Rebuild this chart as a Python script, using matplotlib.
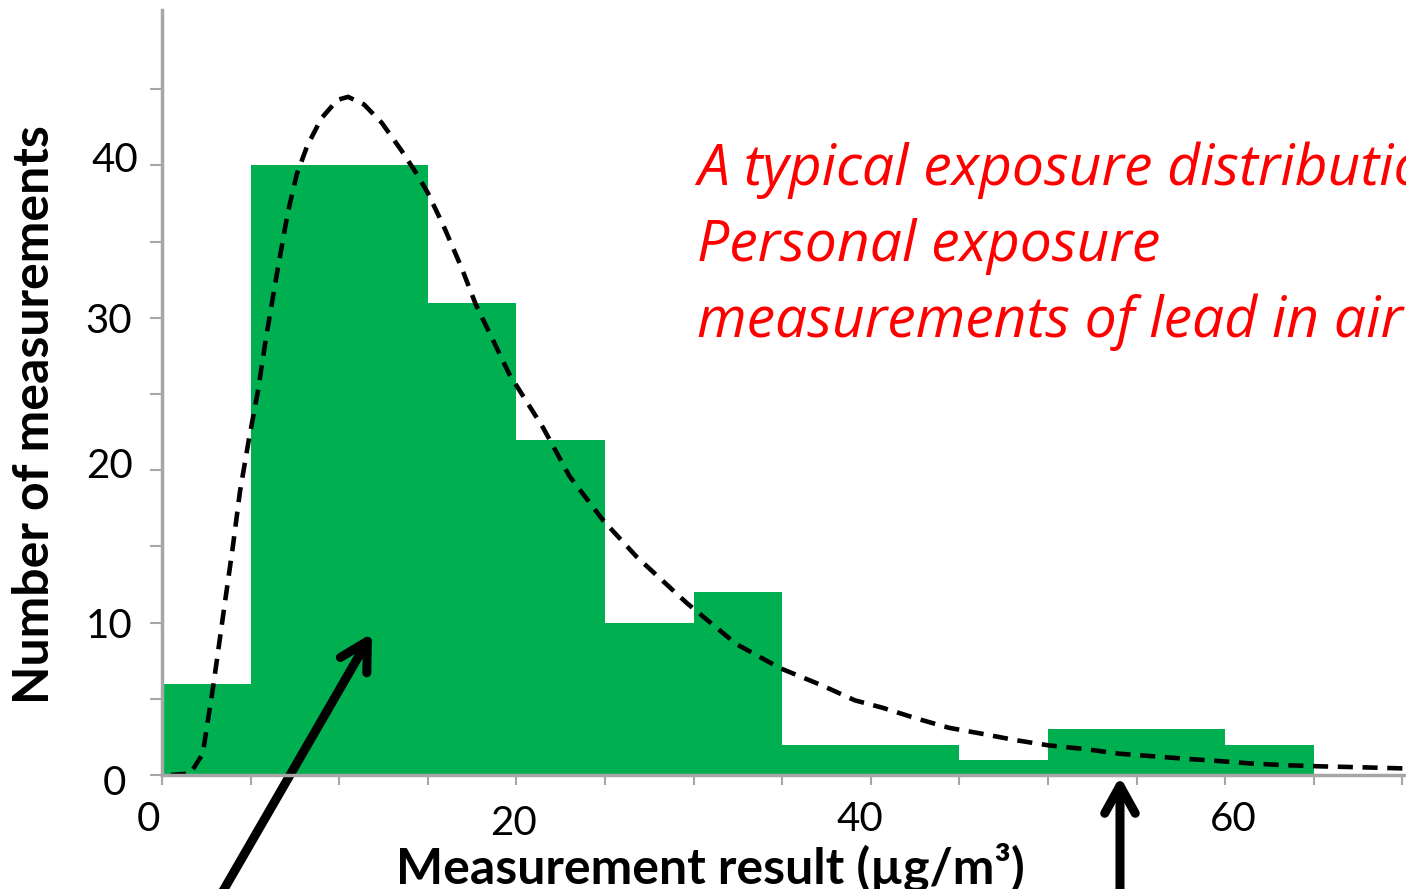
import matplotlib.pyplot as plt
from matplotlib.transforms import ScaledTranslation

# histogram of lead-in-air results (bin left edges, width 5)
bin_left = [0, 5, 10, 15, 20, 25, 30, 35, 40, 45, 50, 55, 60]
counts = [6, 40, 40, 31, 22, 10, 12, 2, 2, 1, 3, 3, 2]

# fitted distribution
curve_x = [0.5, 1.6, 2.3, 2.9, 3.5, 4.0, 4.4, 4.9, 5.4, 5.9, 6.5, 7.1, 7.6, 8.2,
           9.0, 9.9, 10.5, 11.4, 12.4, 13.5, 14.4, 15.0, 15.9, 16.9, 17.7, 19.6,
           21.5, 23.0, 24.9, 26.8, 29.6, 32.4, 34.9, 37.2, 39.1, 40.7, 42.6, 44.4,
           46.3, 48.1, 50.0, 52.1, 54.0, 55.8, 57.7, 59.5, 61.4, 63.5, 65.3, 67.2,
           69.5, 71.0]
curve_y = [0.0, 0.1, 1.4, 5.9, 10.9, 15.0, 18.6, 22.0, 25.1, 28.9, 33.0, 36.9, 39.4,
           41.3, 43.1, 44.3, 44.5, 44.0, 42.8, 41.0, 39.4, 38.2, 36.0, 33.3, 30.9,
           26.3, 22.8, 19.6, 16.7, 14.3, 11.3, 8.6, 7.0, 5.9, 4.9, 4.4, 3.7, 3.1,
           2.7, 2.3, 1.95, 1.7, 1.4, 1.24, 1.07, 0.93, 0.76, 0.64, 0.57, 0.52,
           0.45, 0.4]

xtick_vals = [0, 20, 40, 60]
ytick_vals = [0, 10, 20, 30, 40]

note_lines = ["A typical exposure distribution",
              "Personal exposure",
              "measurements of lead in air"]

plt.rcParams['font.family'] = ['Lato', 'DejaVu Sans']

fig = plt.figure(figsize=(14.06, 8.89), dpi=100)
ax = fig.add_axes([162 / 1406, 1 - 775 / 889, 1 - 162 / 1406, (775 - 10) / 889])

ax.bar(bin_left, counts, width=5, align='edge', color='#00B050', linewidth=0, zorder=2)
ax.plot(curve_x, curve_y, color='black', lw=3.3, linestyle=(0, (3.3, 2.1)), zorder=3)

ax.set_xlim(0, 70.2)
ax.set_ylim(0, 50.2)

grey = '#A6A6A6'
for s in ['top', 'right']:
    ax.spines[s].set_visible(False)
for s in ['left', 'bottom']:
    ax.spines[s].set_color(grey)
    ax.spines[s].set_linewidth(2.5)
    ax.spines[s].set_zorder(4)

ax.set_xticks(range(0, 71, 5), minor=True)
ax.set_xticks(xtick_vals)
ax.set_xticklabels([str(v) for v in xtick_vals])
ax.set_yticks(range(0, 50, 5), minor=True)
ax.set_yticks(ytick_vals)
ax.set_yticklabels([str(v) for v in ytick_vals])
ax.tick_params(which='both', color=grey, width=1.5)
ax.tick_params(axis='y', which='both', length=9)
ax.tick_params(axis='x', which='both', length=7)
ax.tick_params(axis='x', labelsize=29, pad=12)
ax.tick_params(axis='y', labelsize=29, pad=8)

# the reference labels sit a little off their ticks
x_shift = [(-14, 0), (-3, -4), (-11, 0), (8, 0)]
for lab, (dx, dy) in zip(ax.get_xticklabels(), x_shift):
    lab.set_transform(lab.get_transform() + ScaledTranslation(dx / 100, dy / 100, fig.dpi_scale_trans))
y_shift = [(-12, -5), (-6, 0), (-6, 7), (-6, 0), (0, 8)]
for lab, (dx, dy) in zip(ax.get_yticklabels(), y_shift):
    lab.set_transform(lab.get_transform() + ScaledTranslation(dx / 100, dy / 100, fig.dpi_scale_trans))

fig.text(710 / 1406, 5 / 889, "Measurement result (µg/m³)", fontsize=36,
         fontweight='bold', ha='center', va='baseline')
fig.text(35 / 1406, 1 - 415 / 889, "Number of measurements", fontsize=36,
         fontweight='bold', rotation=90, ha='center', va='center')

for i, line in enumerate(note_lines):
    fig.text(697 / 1406, 1 - (185 + 76 * i) / 889, line, fontsize=41,
             style='italic', color='#FF0000', ha='left', va='baseline',
             family=['Open Sans', 'DejaVu Sans'])

arrow = dict(arrowstyle='->,head_length=0.9,head_width=0.5', lw=6.5,
             color='black', shrinkA=0, shrinkB=0, mutation_scale=22,
             capstyle='round', joinstyle='round')
ax.annotate('', xy=(11.85, 9.3), xytext=(3.0, -8.5), arrowprops=arrow,
            annotation_clip=False)
ax.annotate('', xy=(54.06, -0.1), xytext=(54.06, -8.5), arrowprops=arrow,
            annotation_clip=False)

fig.savefig('out.png', dpi=100)
